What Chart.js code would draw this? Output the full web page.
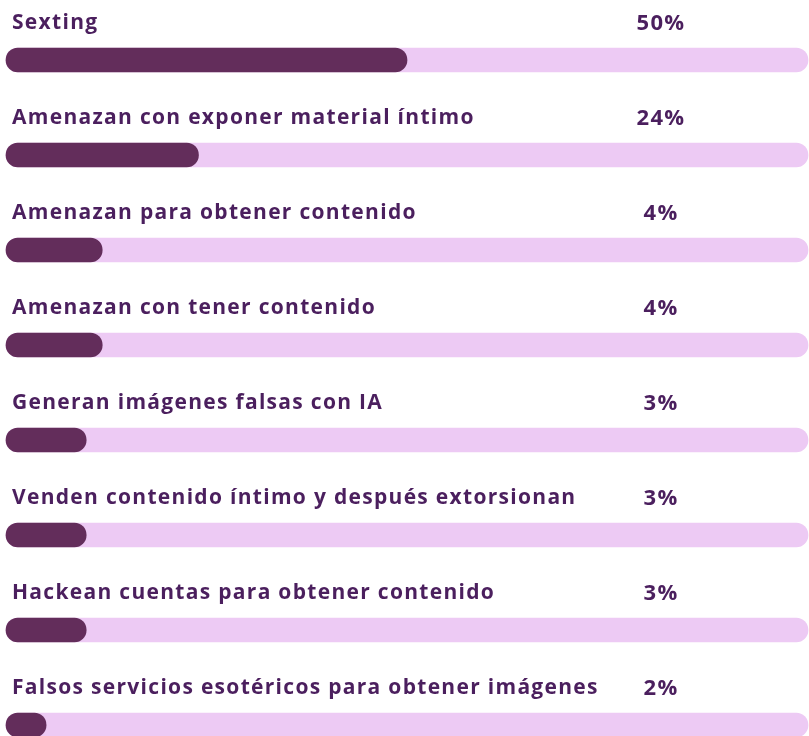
<!DOCTYPE html>
<html>
<head>
<meta charset="utf-8">
<script src="https://cdn.jsdelivr.net/npm/chart.js@4/dist/chart.umd.min.js"></script>
<style>
  html, body { margin: 0; padding: 0; background: #fff; }
  #wrap { width: 809px; height: 736px; }
</style>
</head>
<body>
<div id="wrap"><canvas id="chart" width="809" height="736"></canvas></div>
<script>
const categories = [
  "Sexting",
  "Amenazan con exponer material íntimo",
  "Amenazan para obtener contenido",
  "Amenazan con tener contenido",
  "Generan imágenes falsas con IA",
  "Venden contenido íntimo y después extorsionan",
  "Hackean cuentas para obtener contenido",
  "Falsos servicios esotéricos para obtener imágenes"
];
const percentLabels = ["50%", "24%", "4%", "4%", "3%", "3%", "3%", "2%"];
// drawn bar lengths (small bars are drawn longer than their %)
const barLengths = [50, 24, 12, 12, 10, 10, 10, 5];
const trackValues = [100, 100, 100, 100, 100, 100, 100, 100];

const textColor = "#4b1f5e";
const barColor = "#632d5b";
const trackColor = "#edcaf4";

const labelsPlugin = {
  id: "rowLabels",
  afterDatasetsDraw(chart) {
    const ctx = chart.ctx;
    const y = chart.scales.y;
    ctx.save();
    ctx.fillStyle = textColor;
    ctx.textBaseline = "middle";
    ctx.letterSpacing = "1.3px";
    categories.forEach((name, i) => {
      const py = y.getPixelForValue(i) - 37;
      ctx.font = "700 21px 'Open Sans'";
      ctx.textAlign = "left";
      ctx.fillText(name, 12, py);
      ctx.font = "700 22px 'Open Sans'";
      ctx.textAlign = "center";
      ctx.fillText(percentLabels[i], 661, py + 1);
    });
    ctx.restore();
  }
};

new Chart(document.getElementById("chart"), {
  type: "bar",
  data: {
    labels: categories,
    datasets: [
      {
        label: "valor",
        data: barLengths,
        backgroundColor: barColor,
        borderRadius: 12,
        borderSkipped: false,
        barThickness: 24,
        grouped: false,
        clip: false,
        order: 0
      },
      {
        label: "fondo",
        data: trackValues,
        backgroundColor: trackColor,
        borderRadius: 12,
        borderSkipped: false,
        barThickness: 24,
        grouped: false,
        clip: false,
        order: 1
      }
    ]
  },
  options: {
    indexAxis: "y",
    responsive: false,
    animation: false,
    layout: { padding: { left: 6, right: 1, top: 60, bottom: 11 } },
    plugins: { legend: { display: false }, tooltip: { enabled: false } },
    scales: {
      x: { display: false, min: 0, max: 100 },
      y: { display: false, offset: false }
    }
  },
  plugins: [labelsPlugin]
});
</script>
</body>
</html>
